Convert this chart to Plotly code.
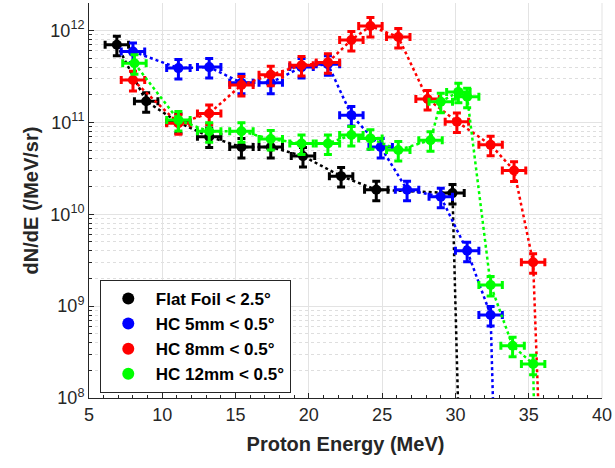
import plotly.graph_objects as go

# ---- data ----
flat_x = [6.9, 8.9, 11.1, 13.2, 15.4, 17.4, 19.6, 22.2, 24.6, 29.8, 30.5]
flat_y = [7.0e11, 1.7e11, 1.0e11, 7.0e10, 5.4e10, 5.4e10, 4.3e10, 2.6e10, 1.85e10, 1.7e10, 1.0e6]

hc5_x = [8.0, 11.1, 13.2, 15.4, 17.4, 19.5, 21.3, 22.9, 24.9, 26.7, 29.0, 30.8, 32.4, 32.9]
hc5_y = [5.9e11, 3.9e11, 4.0e11, 2.7e11, 2.7e11, 4.0e11, 4.3e11, 1.2e11, 5.4e10, 1.85e10, 1.55e10, 4.0e9, 8.0e8, 1.0e6]

hc8_x = [8.0, 11.1, 13.2, 15.4, 17.4, 19.5, 21.3, 22.9, 24.2, 26.1, 28.1, 30.1, 32.4, 34.0, 35.3, 36.1]
hc8_y = [2.9e11, 9.8e10, 1.25e11, 2.55e11, 3.3e11, 4.2e11, 4.5e11, 7.9e11, 1.12e12, 8.5e11, 1.8e11, 1.02e11, 5.7e10, 3.0e10, 3.0e9, 1.0e6]

hc12_x = [8.1, 11.1, 13.2, 15.4, 17.4, 19.5, 21.3, 22.9, 24.2, 26.1, 28.3, 29.0, 30.2, 30.8, 32.4, 33.9, 35.3, 35.6]
hc12_y = [4.4e11, 1.06e11, 8.0e10, 8.0e10, 6.6e10, 5.9e10, 5.9e10, 7.3e10, 6.7e10, 5.0e10, 6.4e10, 1.68e11, 2.15e11, 1.9e11, 1.7e9, 3.7e8, 2.35e8, 1.0e6]

series_names = ["Flat Foil < 2.5°", "HC 5mm < 0.5°", "HC 8mm < 0.5°", "HC 12mm < 0.5°"]
series_colors = ["#000000", "#0000ff", "#ff0000", "#00ff00"]

x_err = 0.8
y_err_pct = 24

x_ticks = [5, 10, 15, 20, 25, 30, 35, 40]
y_tickvals = [1e8, 1e9, 1e10, 1e11, 1e12]
y_ticktext = ["10<sup>8</sup>", "10<sup>9</sup>", "10<sup>10</sup>", "10<sup>11</sup>", "10<sup>12</sup>"]

FAM = "Liberation Sans, Arial, sans-serif"

fig = go.Figure()
all_series = [(flat_x, flat_y), (hc5_x, hc5_y), (hc8_x, hc8_y), (hc12_x, hc12_y)]
for (xs, ys), name, col in zip(all_series, series_names, series_colors):
    fig.add_trace(go.Scatter(
        x=xs, y=ys, mode="lines+markers", name=name, showlegend=False,
        line=dict(color=col, width=2.5, dash="dot"),
        marker=dict(color=col, size=10, symbol="circle"),
        error_x=dict(type="constant", value=x_err, color=col, thickness=3, width=4),
        error_y=dict(type="percent", value=y_err_pct, color=col, thickness=3, width=4),
    ))
for name, col in zip(series_names, series_colors):
    fig.add_trace(go.Scatter(
        x=[None], y=[None], mode="markers", name=name,
        marker=dict(color=col, size=10, symbol="circle"),
    ))

axis_font = dict(family=FAM, size=18, color="#262626")
title_font = dict(family=FAM, size=20, color="#262626", weight="bold")
fig.update_layout(
    width=615, height=468,
    margin=dict(l=89, r=13, t=3, b=70),
    paper_bgcolor="white", plot_bgcolor="white",
    font=dict(family=FAM, color="#262626"),
    showlegend=True,
    legend=dict(
        x=0.021, y=0.299, xanchor="left", yanchor="top",
        bgcolor="white", bordercolor="#262626", borderwidth=1,
        font=dict(family=FAM, size=17, color="#000000", weight="bold"),
        itemsizing="constant", tracegroupgap=0, itemwidth=45,
    ),
    xaxis=dict(
        range=[5, 40], tickvals=x_ticks, tickfont=axis_font,
        title=dict(text="Proton Energy (MeV)", font=title_font, standoff=13),
        showgrid=True, gridcolor="#e3e3e3", gridwidth=1,
        showline=True, linecolor="#262626", linewidth=1, mirror=False,
        ticks="inside", ticklen=5, tickcolor="#262626",
        minor=dict(dtick=1, ticks="inside", ticklen=3, tickcolor="#262626", showgrid=False),
        zeroline=False,
    ),
    yaxis=dict(
        type="log", range=[8, 12.3], tickvals=y_tickvals, ticktext=y_ticktext, tickfont=axis_font,
        title=dict(text="dN/dE (/MeV/sr)", font=title_font, standoff=6),
        showgrid=True, gridcolor="#e3e3e3", gridwidth=1,
        showline=True, linecolor="#262626", linewidth=1, mirror=False,
        ticks="inside", ticklen=5, tickcolor="#262626",
        minor=dict(dtick="D1", ticks="inside", ticklen=3, tickcolor="#262626",
                   showgrid=True, gridcolor="#dedede", griddash="dot", gridwidth=1),
        zeroline=False,
    ),
)
fig.add_shape(type="line", xref="paper", yref="paper", x0=1, x1=1, y0=0, y1=1,
              line=dict(color="#e3e3e3", width=1))

fig.write_html("out.html", config={"displayModeBar": False},
               post_script="document.body.style.margin='0';document.body.style.overflow='hidden';")
